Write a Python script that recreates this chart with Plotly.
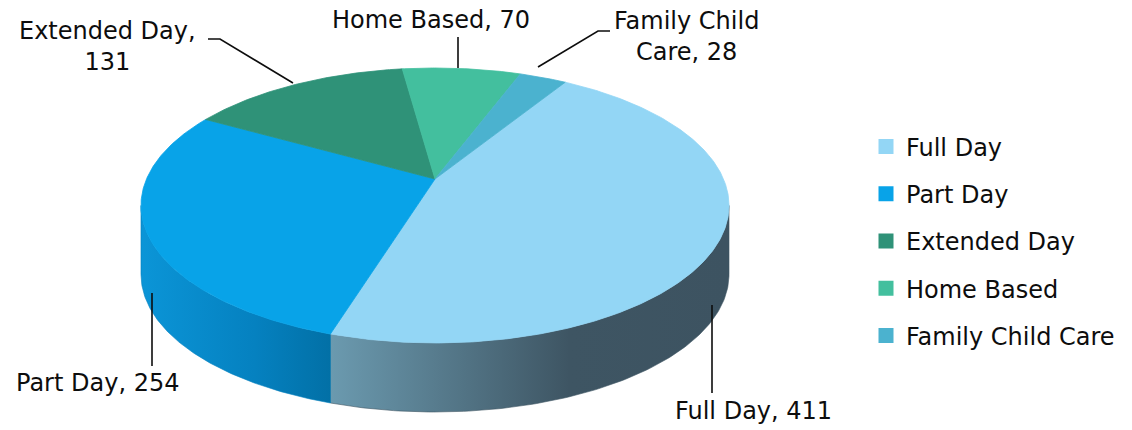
import numpy as np
import plotly.graph_objects as go

# ---------------- data ----------------
categories = ["Full Day", "Part Day", "Extended Day", "Home Based", "Family Child Care"]
values = [411, 254, 131, 70, 28]
top_colors = ["#93d6f5", "#08a3e8", "#2f9278", "#43bf9e", "#4bb2cf"]
side_colors = [["#6b9aaf", "#3e5563", "#3d5361"],
               ["#0b95d7", "#0581c0", "#0270a6"],
               ["#22735e", "#1f6a56", "#1c6250"],
               ["#33a182", "#2f977a", "#2b8d72"],
               ["#3b96b0", "#368ca5", "#32839b"]]

# ---------------- geometry (layout, pixels) ----------------
W, H = 1132, 430
CX, APEX_Y = 435.0, 179.0      # centre of the pie top
A, B, K = 288.5, 132.4, 0.1927  # perspective ellipse parameters
DEPTH = 69.0                    # thickness of the pie
START = 58.3                    # start angle (deg), slices go clockwise


def proj(theta_deg, drop=0.0):
    t = np.radians(theta_deg)
    x, y = np.cos(t), np.sin(t)
    w = 1 + K * y
    return CX + A * x / w, APEX_Y - B * y / w + drop


total = float(sum(values))
fracs = [v / total for v in values]
bounds = [START]
for f in fracs:
    bounds.append(bounds[-1] - f * 360.0)

# visible silhouette of side wall
sil = np.degrees(np.arcsin(K))
vis_lo, vis_hi = -180.0 + sil, -sil   # front side (near viewer)

fig = go.Figure()

# side walls
for i, cat in enumerate(categories):
    a0, a1 = bounds[i], bounds[i + 1]  # a0 > a1
    for shift in (-360.0, 0.0, 360.0):
        lo = max(a1 + shift, vis_lo)
        hi = min(a0 + shift, vis_hi)
        if hi > lo:
            th = np.linspace(hi, lo, 120)
            xt, yt = proj(th)
            xb, yb = proj(th[::-1], DEPTH)
            xs = np.concatenate([xt, xb, xt[:1]])
            ys = np.concatenate([yt, yb, yt[:1]])
            sc = side_colors[i]
            fig.add_trace(go.Scatter(
                x=xs, y=ys, mode="lines", fill="toself",
                line=dict(width=0.6, color=sc[1]),
                fillgradient=dict(type="horizontal",
                                  colorscale=[[0, sc[0]], [0.6, sc[1]], [1, sc[2]]]),
                hoverinfo="skip", showlegend=False))

# top faces
for i, cat in enumerate(categories):
    a0, a1 = bounds[i], bounds[i + 1]
    n = max(int(abs(a0 - a1) * 2), 8)
    th = np.linspace(a0, a1, n)
    xa, ya = proj(th)
    xs = np.concatenate([[CX], xa, [CX]])
    ys = np.concatenate([[APEX_Y], ya, [APEX_Y]])
    fig.add_trace(go.Scatter(
        x=xs, y=ys, mode="lines", fill="toself", fillcolor=top_colors[i],
        line=dict(width=0.8, color=top_colors[i]),
        name=cat, hoverinfo="text", text=f"{cat}: {values[i]}",
        showlegend=False))

# legend entries
for i, cat in enumerate(categories):
    fig.add_trace(go.Scatter(
        x=[None], y=[None], mode="markers", name=cat,
        marker=dict(symbol="square", size=15, color=top_colors[i]),
        legendgroup=cat, showlegend=True))

# data labels
label_texts = []
for c, v in zip(categories, values):
    if c == "Extended Day":
        label_texts.append(f"{c},<br>{v}")
    elif c == "Family Child Care":
        label_texts.append(c.replace(" Care", "<br>Care") + f", {v}")
    else:
        label_texts.append(f"{c}, {v}")

label_pos = [(753, 411), (97, 383), (107, 46), (431, 20), (686, 36)]
leaders = [
    [(712, 305), (712, 393)],
    [(152, 293), (152, 366)],
    [(208, 39), (220, 39), (293, 83)],
    [(458, 37), (458, 68)],
    [(610, 31), (598, 31), (538, 67)],
]
FONT = "DejaVu Sans"
FS = 24
for (lx, ly), txt in zip(label_pos, label_texts):
    fig.add_annotation(x=lx, y=ly, text=txt, showarrow=False,
                       xanchor="center", yanchor="middle",
                       font=dict(family=FONT, size=FS, color="#0d0d0d"))
for pts in leaders:
    path = "M " + " L ".join(f"{px},{py}" for px, py in pts)
    fig.add_shape(type="path", path=path, line=dict(color="#0d0d0d", width=1.6))

fig.update_layout(
    width=W, height=H,
    margin=dict(l=0, r=0, t=0, b=0),
    paper_bgcolor="white", plot_bgcolor="white",
    xaxis=dict(range=[0, W], visible=False, fixedrange=True),
    yaxis=dict(range=[H, 0], visible=False, fixedrange=True),
    showlegend=True,
    legend=dict(x=866 / W, xanchor="left", y=1 - 124.5 / H, yanchor="top",
                font=dict(family=FONT, size=FS, color="#0d0d0d"),
                tracegroupgap=13, itemwidth=30, bgcolor="rgba(0,0,0,0)"),
)

fig.write_html("out.html",
               config={"displayModeBar": False},
               post_script="document.body.style.margin='0';document.body.style.overflow='hidden';")
